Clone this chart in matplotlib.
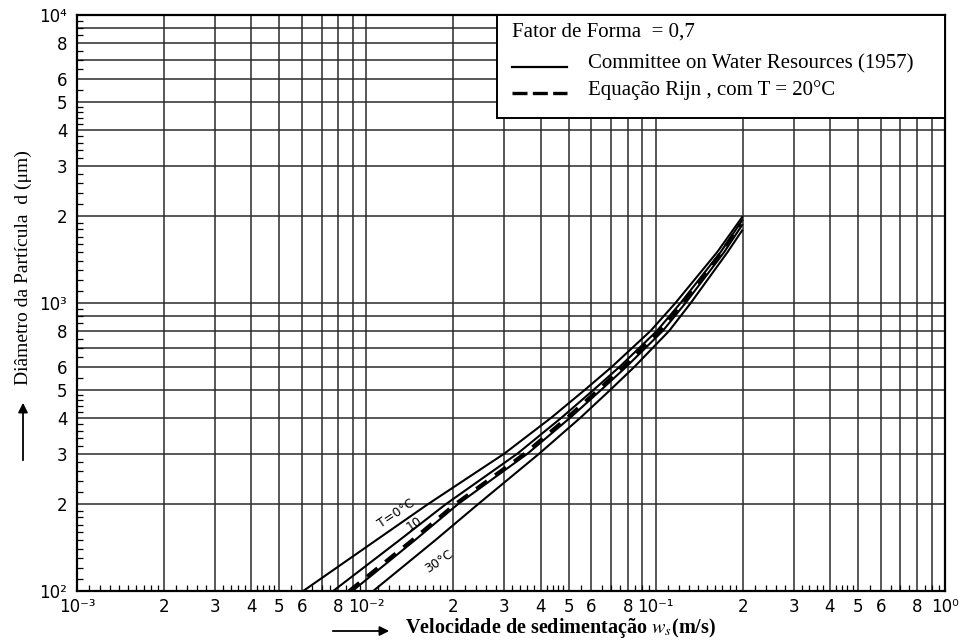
import numpy as np
import matplotlib.pyplot as plt
from matplotlib.patches import Rectangle
from matplotlib.lines import Line2D
from matplotlib.ticker import NullFormatter

# velocidade de sedimentação (m/s) para cada diâmetro (µm), por temperatura
d_T0 = [100, 150, 200, 300, 400, 500, 600, 800, 1000, 1500, 2000]
w_T0 = [0.00605, 0.0108, 0.0163, 0.0300, 0.0436, 0.0570, 0.0705, 0.0960, 0.117, 0.163, 0.200]

d_T10 = [100, 150, 200, 300, 400, 500, 600, 800, 1000, 1500, 1950]
w_T10 = [0.00768, 0.0130, 0.0188, 0.0333, 0.0473, 0.0611, 0.0750, 0.1010, 0.1219, 0.1675, 0.200]

d_T20 = [100, 150, 200, 300, 400, 500, 600, 800, 1000, 1500, 1880]
w_T20 = [0.00895, 0.0147, 0.0207, 0.0361, 0.0507, 0.0649, 0.0791, 0.1058, 0.1268, 0.1723, 0.200]

d_T30 = [100, 150, 200, 300, 400, 500, 600, 800, 1000, 1500, 1800]
w_T30 = [0.01056, 0.0173, 0.0243, 0.0396, 0.0550, 0.0698, 0.0844, 0.1113, 0.1322, 0.1770, 0.200]

# equação de van Rijn, T = 20°C
d_rijn = [100, 150, 200, 300, 400, 500, 600, 800, 1000, 1500, 1880]
w_rijn = [0.0087, 0.01435, 0.0202, 0.0352, 0.0494, 0.0633, 0.0772, 0.1033, 0.1238, 0.1685, 0.196]

# rótulos das curvas (texto, w, d)
rotulos = [('T=0°C', 0.0127, 186), ('10', 0.0147, 171), ('30°C', 0.0178, 127)]

decadas_x = [-3, -2, -1]
decadas_y = [2, 3]
mult_rot = [1, 2, 3, 4, 5, 6, 8]
sup = {-3: '⁻³', -2: '⁻²', -1: '⁻¹', 0: '⁰', 2: '²', 3: '³', 4: '⁴'}

serif = ['Liberation Serif', 'DejaVu Serif']
plt.rcParams['mathtext.fontset'] = 'stix'

fig = plt.figure(figsize=(9.65, 6.41), dpi=100)
ax = fig.add_axes([77/965, 50/641, 868/965, 576/641])
ax.set_xscale('log')
ax.set_yscale('log')
ax.set_xlim(1e-3, 1)
ax.set_ylim(1e2, 1e4)

# papel log-log: linhas em cada inteiro da década
for e in decadas_x:
    for k in range(1 if e > -3 else 2, 10):
        ax.axvline(k * 10.0**e, color='#2a2a2a', lw=1.1, zorder=1)
for e in decadas_y:
    for k in range(1 if e > 2 else 2, 10):
        ax.axhline(k * 10.0**e, color='#2a2a2a', lw=1.1, zorder=1)

# ticks com rótulos
def rot(k, e):
    return '10' + sup[e] if k == 1 else str(k)

xt = [k * 10.0**e for e in decadas_x for k in mult_rot] + [1.0]
xl = [rot(k, e) for e in decadas_x for k in mult_rot] + [rot(1, 0)]
yt = [k * 10.0**e for e in decadas_y for k in mult_rot] + [1e4]
yl = [rot(k, e) for e in decadas_y for k in mult_rot] + [rot(1, 4)]
ax.set_xticks(xt)
ax.set_xticklabels(xl, family='DejaVu Sans')
ax.set_yticks(yt)
ax.set_yticklabels(yl, family='DejaVu Sans')

# subdivisões finas
subs = list(np.arange(1.1, 2.0, 0.1)) + list(np.arange(2.2, 5.0, 0.2)) + list(np.arange(5.5, 10.0, 0.5))
ax.set_xticks([s * 10.0**e for e in decadas_x for s in subs], minor=True)
ax.set_yticks([s * 10.0**e for e in decadas_y for s in subs], minor=True)
ax.xaxis.set_minor_formatter(NullFormatter())
ax.yaxis.set_minor_formatter(NullFormatter())
ax.tick_params(which='major', length=0, labelsize=12)
ax.tick_params(axis='x', which='major', pad=5)
ax.tick_params(axis='y', which='major', pad=7)
ax.tick_params(which='minor', direction='in', length=4, width=0.9)
for s in ax.spines.values():
    s.set_linewidth(1.6)

# curvas
kw = dict(color='black', lw=1.5, zorder=3, solid_capstyle='butt')
ax.plot(w_T0, d_T0, **kw)
ax.plot(w_T10, d_T10, **kw)
ax.plot(w_T20, d_T20, **kw)
ax.plot(w_T30, d_T30, **kw)
ax.plot(w_rijn, d_rijn, color='black', lw=2.4, dashes=(4, 3), zorder=3)

for txt, w, d in rotulos:
    ax.text(w, d, txt, fontsize=9, rotation=34, ha='center', va='center', zorder=4)

# quadro da legenda
ax.add_patch(Rectangle((0.484, 0.822), 0.516, 0.178, transform=ax.transAxes,
                       facecolor='white', edgecolor='black', lw=1.4, zorder=5))
ax.text(0.501, 0.970, 'Fator de Forma  = 0,7', transform=ax.transAxes,
        family=serif, fontsize=15, va='center', zorder=6)
ax.add_line(Line2D([0.501, 0.565], [0.909, 0.909], transform=ax.transAxes,
                   color='black', lw=1.6, zorder=6))
ax.text(0.589, 0.915, 'Committee on Water Resources (1957)', transform=ax.transAxes,
        family=serif, fontsize=15, va='center', zorder=6)
ax.add_line(Line2D([0.501, 0.565], [0.865, 0.865], transform=ax.transAxes,
                   color='black', lw=2.4, dashes=(4.5, 1.6), zorder=6))
ax.text(0.589, 0.870, 'Equação Rijn , com T = 20°C', transform=ax.transAxes,
        family=serif, fontsize=15, va='center', zorder=6)

# títulos dos eixos com setas
fig.text(23/965, 1 - 268/641, 'Diâmetro da Partícula  d (μm)', rotation=90,
         family=serif, fontsize=14, ha='center', va='center')
ax.annotate('', xy=(23/965, 1 - 400/641), xytext=(23/965, 1 - 463/641),
            xycoords='figure fraction', textcoords='figure fraction',
            arrowprops=dict(arrowstyle='-|>', color='black', lw=1.3, mutation_scale=14))
fig.text(405/965, 1 - 628/641, r'Velocidade de sedimentação $w_s$(m/s)',
         family=serif, fontsize=14.5, fontweight='bold', ha='left', va='center')
ax.annotate('', xy=(392/965, 1 - 631/641), xytext=(330/965, 1 - 631/641),
            xycoords='figure fraction', textcoords='figure fraction',
            arrowprops=dict(arrowstyle='-|>', color='black', lw=1.3, mutation_scale=14))

fig.savefig('out.png', dpi=100)
